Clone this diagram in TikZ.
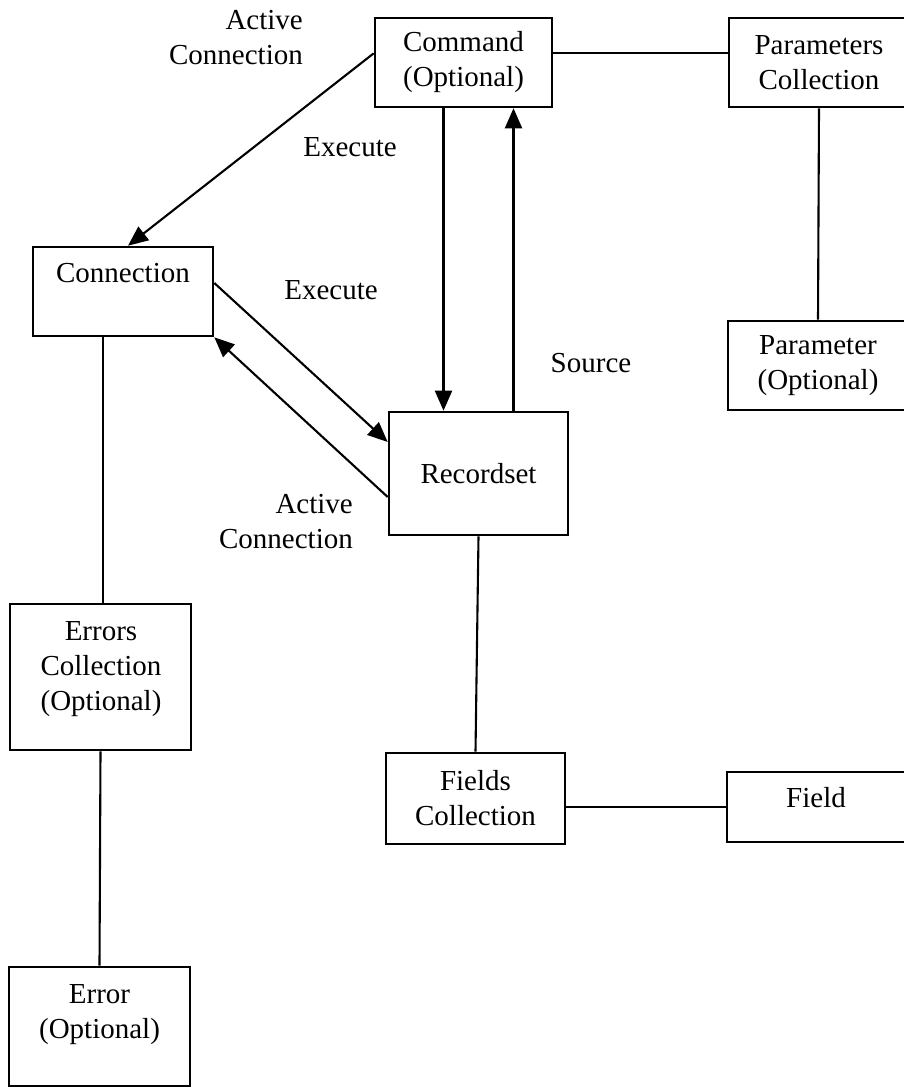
\documentclass[tikz,border=0pt]{standalone}
\usepackage{fontspec}
\setmainfont{Liberation Serif}
\usetikzlibrary{arrows.meta,calc}
\begin{document}
\begin{tikzpicture}[x=1pt,y=-1pt,
  txt/.style={inner sep=0pt, align=center, font=\fontsize{29}{35}\selectfont},
  box/.style={draw, line width=2.6pt, inner sep=0pt, align=center,
              font=\fontsize{29}{35}\selectfont},
  link/.style={line width=2.1pt},
  arr/.style={line width=2.1pt, -{Triangle[length=20pt,width=17pt]}}]
\clip (0,0) rectangle (904,1089);
\fill[white] (0,0) rectangle (904,1089);

% object boxes
\node[box, minimum width=177pt, minimum height=89pt]  (command)    at (463.5,62.5)  {Command\\(Optional)};
\node[box, minimum width=180pt, minimum height=89pt]  (params)     at (819,62.5)    {Parameters\\Collection};
\node[box, minimum width=180pt, minimum height=89pt]  (parameter)  at (818,365.5)   {Parameter\\(Optional)};
\node[box, minimum width=180pt, minimum height=89pt]  (connection) at (123,291.5)   {};
\node[box, minimum width=179pt, minimum height=123pt] (recordset)  at (478.5,473.5) {Recordset};
\node[box, minimum width=181pt, minimum height=146pt] (errors)     at (100.5,677)   {};
\node[box, minimum width=181pt, minimum height=119pt] (error)      at (99.5,1026.5) {};
\node[box, minimum width=179pt, minimum height=91pt]  (fields)     at (475.5,798.5) {Fields\\Collection};
\node[box, minimum width=180pt, minimum height=70pt]  (field)      at (817,807)     {};

% box captions set above the box centre
\node[txt] (connectiontext) at (123,273)  {Connection};
\node[txt] (errorstext)     at (101,669)  {Errors\\Collection\\(Optional)};
\node[txt] (errortext)      at (99.5,1015) {Error\\(Optional)};
\node[txt] (fieldtext)      at (816,798)  {Field};

% connector labels
\node[txt, anchor=east, align=right] (lblac1) at (303,37.5)  {Active\\Connection};
\node[txt] (lblexec1) at (350,147) {Execute};
\node[txt] (lblexec2) at (331,290) {Execute};
\node[txt] (lblsource) at (591,363) {Source};
\node[txt, anchor=east, align=right] (lblac2) at (353,521.5) {Active\\Connection};

% connectors
\coordinate (cmdleft) at ($(command.north west)!0.4!(command.south west)$);
\coordinate (cmdright) at ($(command.north east)!0.4!(command.south east)$);
\draw[arr] (cmdleft) -- ([xshift=5pt]connection.north);
\draw[link] (cmdright) -- (cmdright -| params.west);
\draw[link] (params.south) -- (parameter.north);
\draw[arr] ([xshift=-20pt]command.south) -- ([xshift=-20pt]command.south |- recordset.north);
\draw[arr] ([xshift=35pt]recordset.north) -- ([xshift=35pt]recordset.north |- command.south);
\draw[arr] ([yshift=8.5pt]connection.east) -- ([yshift=31.5pt]recordset.west);
\draw[arr] ([yshift=-23.5pt]recordset.west) -- (connection.south east);
\draw[link] ([xshift=-20pt]connection.south) -- ([xshift=-20pt]connection.south |- errors.north);
\draw[link] (errors.south) -- (error.north);
\draw[link] (recordset.south) -- (fields.north);
\draw[link] (field.west -| fields.east) -- (field.west);
\end{tikzpicture}
\end{document}
